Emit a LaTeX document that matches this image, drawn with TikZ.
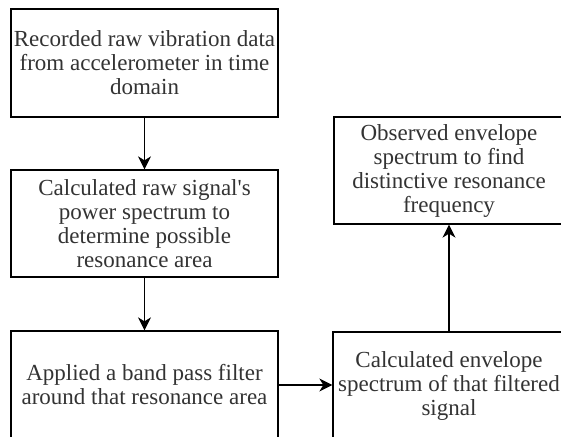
\documentclass[tikz,border=0pt]{standalone}
\usepackage{fontspec}
\setmainfont{Liberation Serif}
\newfontfamily\plainserif{Liberation Serif}
\usetikzlibrary{arrows.meta}
\begin{document}
\begin{tikzpicture}[x=1pt,y=1pt,
  box/.style={draw=black, line width=1.3pt, fill=white, rectangle, inner sep=0pt,
    align=center, text=black!80,
    font=\fontsize{23}{24}\selectfont},
  flow/.style={draw=black, line width=1.3pt, -{Stealth[length=13pt,width=13pt,inset=4pt]}}]
\useasboundingbox (0,0) rectangle (561,-436);
\clip (0,0) rectangle (561,-436);
\fill[white] (0,0) rectangle (561,-436);
\node[box, minimum width=267pt, minimum height=108pt] (b1) at (144.5,-63)
  {Recorded raw vibration data\\from accelerometer in time\\domain};
\node[box, minimum width=267pt, minimum height=107pt] (b2) at (144.5,-223.5)
  {Calculated raw signal{\plainserif '}s\\power spectrum to\\determine possible\\resonance area};
\node[box, minimum width=267pt, minimum height=108pt] (b3) at (144.5,-385)
  {Applied a band pass filter\\around that resonance area};
\node[box, minimum width=232pt, minimum height=106pt] (b4) at (449,-385)
  {\raisebox{-2pt}[\height][\depth]{\begin{tabular}{@{}c@{}}Calculated envelope\\spectrum of that filtered\\signal\end{tabular}}};
\node[box, minimum width=230pt, minimum height=107pt] (b5) at (449,-170.5)
  {\raisebox{-1pt}[\height][\depth]{\begin{tabular}{@{}c@{}}Observed envelope\\spectrum to find\\distinctive resonance\\frequency\end{tabular}}};
\draw[flow] (b1.south) -- (b2.north);
\draw[flow] (b2.south) -- (b3.north);
\draw[flow] (b3.east) -- (b4.west);
\draw[flow] (b4.north) -- (b5.south);
\end{tikzpicture}
\end{document}
